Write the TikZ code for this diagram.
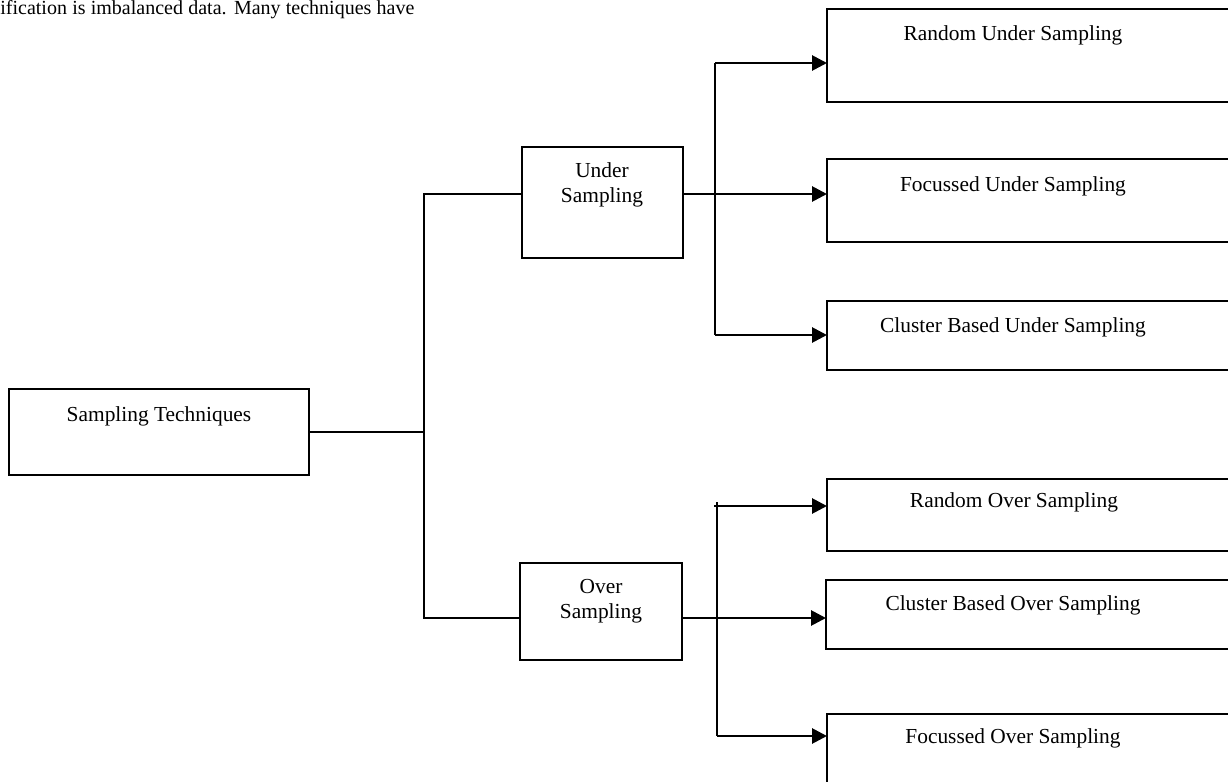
\documentclass[tikz,border=0pt]{standalone}
\usepackage{fontspec}
\setmainfont{Liberation Serif}
\usetikzlibrary{arrows.meta}
\begin{document}
\begin{tikzpicture}[x=0.5pt,y=-0.5pt,
  box/.style={draw, line width=1pt, inner sep=0pt, outer sep=0pt, anchor=north west},
  lbl/.style={font=\fontsize{10.7}{12.5}\selectfont, inner sep=0pt, anchor=base},
  conn/.style={line width=1pt},
  thinconn/.style={line width=0.6pt},
  arr/.style={line width=1.4pt, -{Triangle[length=7.5pt,width=7.5pt]}}]
\useasboundingbox (0,0) rectangle (1228,782);
\clip (0,0) rectangle (1228,782);

% paragraph fragment
\node[anchor=base west, inner sep=0pt, font=\fontsize{10}{12}\selectfont] (para) at (0,14)
  {\makebox[207pt][s]{ification is imbalanced data. Many techniques have}};

% boxes
\node[box, minimum width=150pt, minimum height=43pt] (st) at (9,389) {};
\node[box, minimum width=80.5pt, minimum height=55.5pt] (us) at (522,147) {};
\node[box, minimum width=81pt, minimum height=48.5pt] (os) at (520,563) {};
\node[box, minimum width=206.5pt, minimum height=46.5pt] (ru) at (827,9) {};
\node[box, minimum width=206.5pt, minimum height=41.5pt] (fu) at (827,159) {};
\node[box, minimum width=206.5pt, minimum height=34.5pt] (cu) at (827,301) {};
\node[box, minimum width=206.5pt, minimum height=36pt] (ro) at (827,479) {};
\node[box, minimum width=207pt, minimum height=34.5pt] (co) at (826,580) {};
\node[box, minimum width=206.5pt, minimum height=50pt] (fo) at (827,714) {};

% labels
\node[lbl] (stt) at (159,421) {Sampling Techniques};
\node[lbl] (ust1) at (602,177) {Under};
\node[lbl] (ust2) at (602,202) {Sampling};
\node[lbl] (ost1) at (601,593) {Over};
\node[lbl] (ost2) at (601,618) {Sampling};
\node[lbl] (rut) at (1013,40) {Random Under Sampling};
\node[lbl] (fut) at (1013,191) {Focussed Under Sampling};
\node[lbl] (cut) at (1013,332) {Cluster Based Under Sampling};
\node[lbl] (rot) at (1014,507) {Random Over Sampling};
\node[lbl] (cot) at (1013,610) {Cluster Based Over Sampling};
\node[lbl] (fot) at (1013,743) {Focussed Over Sampling};

% junctions
\coordinate (jm) at (424,432);
\coordinate (jt) at (424,194);
\coordinate (jb) at (424,618);
\coordinate (uv1) at (715,63);
\coordinate (uvm) at (715,194);
\coordinate (uv2) at (715,335);
\coordinate (ovt) at (717,502);
\coordinate (ov1) at (714,506);
\coordinate (ovm) at (717,618);
\coordinate (ov3) at (717,736);

% left tree
\draw[conn] (st.east |- jm) -- (jm);
\draw[conn] (us.west |- jt) -- (jt) -- (jb) -- (os.west |- jb);

% under branch
\draw[thinconn] (us.east |- uvm) -- (uvm);
\draw[conn] (uv1) -- (uv2);
\draw[arr] (uv1) -- (uv1 -| ru.west);
\draw[arr] (uvm) -- (uvm -| fu.west);
\draw[arr] (uv2) -- (uv2 -| cu.west);

% over branch
\draw[conn] (ovt) -- (ov3);
\draw[arr] (ov1) -- (ov1 -| ro.west);
\draw[arr] (os.east |- ovm) -- (ovm -| co.west);
\draw[arr] (ov3) -- (ov3 -| fo.west);
\end{tikzpicture}
\end{document}
